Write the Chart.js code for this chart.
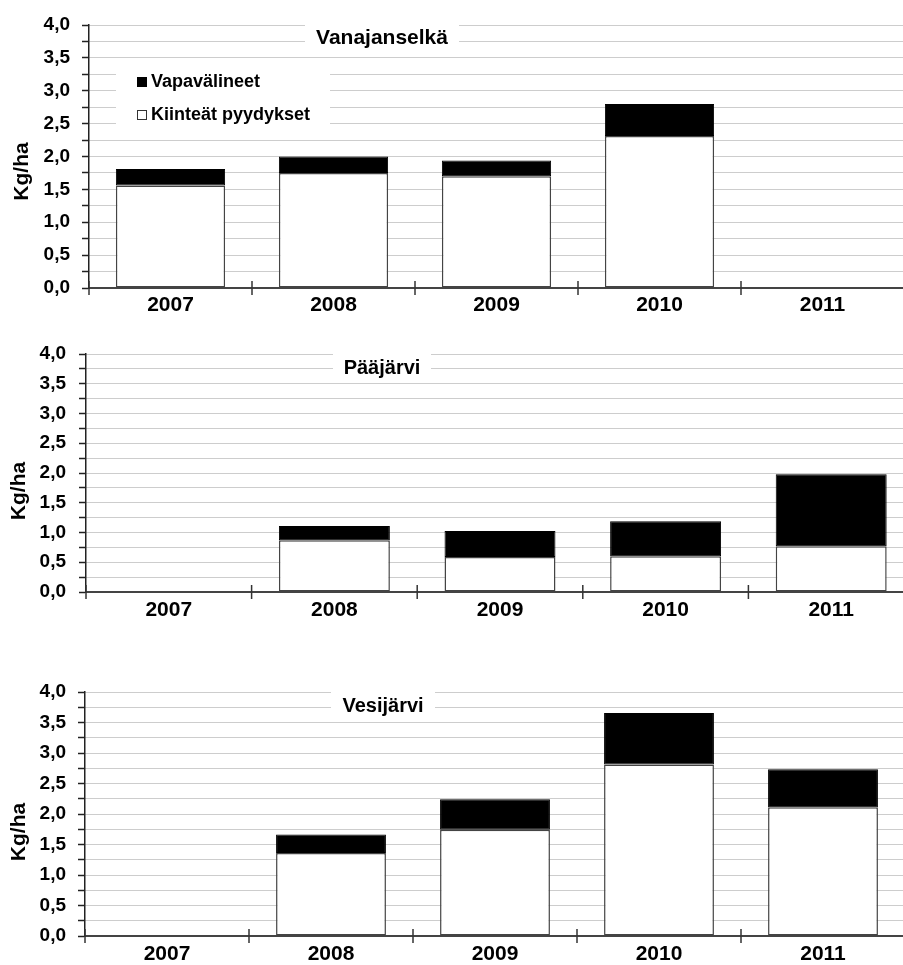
<!DOCTYPE html>
<html>
<head>
<meta charset="utf-8">
<script src="https://cdn.jsdelivr.net/npm/chart.js@4.4.1/dist/chart.umd.min.js"></script>
<style>
  html, body { margin: 0; padding: 0; background: #fff; overflow: hidden; width: 903px; height: 965px; }
  .panel { position: absolute; left: 0; }
</style>
</head>
<body>
<div class="panel" style="top:0px"><canvas id="c1" width="904" height="320"></canvas></div>
<div class="panel" style="top:320px"><canvas id="c2" width="914" height="310"></canvas></div>
<div class="panel" style="top:650px"><canvas id="c3" width="905" height="315"></canvas></div>
<script>
// ---- data ----
const years = ['2007', '2008', '2009', '2010', '2011'];
const seriesNames = ['Vapavälineet', 'Kiinteät pyydykset'];
const lakeNames = ['Vanajanselkä', 'Pääjärvi', 'Vesijärvi'];
const yAxisTitle = 'Kg/ha';
const yTickValues = [0, 0.5, 1, 1.5, 2, 2.5, 3, 3.5, 4];

const vanajaKiinteat = [1.56, 1.75, 1.70, 2.31, null];
const vanajaVapa     = [0.25, 0.25, 0.24, 0.49, null];
const paaKiinteat    = [null, 0.87, 0.59, 0.60, 0.77];
const paaVapa        = [null, 0.24, 0.435, 0.59, 1.21];
const vesiKiinteat   = [null, 1.36, 1.74, 2.81, 2.11];
const vesiVapa       = [null, 0.305, 0.50, 0.845, 0.625];

// ---- styling / layout ----
const FONT = "Arial, 'Liberation Sans', sans-serif";

function fmt(v) { return v.toFixed(1).replace('.', ','); }

function makeChart(id, lake, kiinteat, vapa, L) {
  const decor = {
    id: 'decor' + id,
    afterDraw(chart) {
      const ctx = chart.ctx;
      const xs = chart.scales.x;
      const ca = chart.chartArea;
      ctx.save();
      // category boundary ticks crossing x axis
      const half = (xs.getPixelForValue(1) - xs.getPixelForValue(0)) / 2;
      ctx.strokeStyle = '#333';
      ctx.lineWidth = 1.5;
      for (let i = 0; i < years.length; i++) {
        const x = xs.getPixelForValue(i) - half;
        ctx.beginPath();
        ctx.moveTo(x, ca.bottom - 7);
        ctx.lineTo(x, ca.bottom + 7);
        ctx.stroke();
      }
      // title with white box
      ctx.fillStyle = '#fff';
      ctx.fillRect(L.tBox[0], L.tBox[1], L.tBox[2] - L.tBox[0], L.tBox[3] - L.tBox[1]);
      ctx.fillStyle = '#000';
      ctx.font = 'bold ' + L.tSize + 'px ' + FONT;
      ctx.textAlign = 'center';
      ctx.textBaseline = 'middle';
      ctx.fillText(lake, L.tPos[0], L.tPos[1]);
      // y axis title
      ctx.save();
      ctx.translate(L.yt[0], (ca.top + ca.bottom) / 2 + L.yt[1]);
      ctx.rotate(-Math.PI / 2);
      ctx.font = 'bold 21px ' + FONT;
      ctx.fillText(yAxisTitle, 0, 0);
      ctx.restore();
      // legend
      if (L.legend) {
        const g = L.legend;
        ctx.fillStyle = '#fff';
        ctx.fillRect(g.box[0], g.box[1], g.box[2] - g.box[0], g.box[3] - g.box[1]);
        ctx.font = 'bold 18px ' + FONT;
        ctx.textAlign = 'left';
        ctx.textBaseline = 'middle';
        ctx.fillStyle = '#000';
        ctx.fillRect(g.sx, g.y1 - 5, 10, 10);
        ctx.fillText(seriesNames[0], g.tx, g.y1);
        ctx.fillStyle = '#fff';
        ctx.fillRect(g.sx, g.y2 - 5, 10, 10);
        ctx.strokeStyle = '#333';
        ctx.lineWidth = 1;
        ctx.strokeRect(g.sx + 0.5, g.y2 - 4.5, 9, 9);
        ctx.fillStyle = '#000';
        ctx.fillText(seriesNames[1], g.tx, g.y2);
      }
      ctx.restore();
    }
  };

  return new Chart(document.getElementById(id), {
    type: 'bar',
    data: {
      labels: years,
      datasets: [
        { label: seriesNames[1], data: kiinteat, backgroundColor: '#ffffff', borderColor: '#444', borderWidth: 1.5, borderSkipped: false },
        { label: seriesNames[0], data: vapa, backgroundColor: '#000000', borderColor: '#000', borderWidth: 1, borderSkipped: false }
      ]
    },
    options: {
      responsive: false,
      animation: false,
      devicePixelRatio: 1,
      layout: { padding: { top: L.padTop, left: 0, right: 0, bottom: 0 } },
      datasets: { bar: { barPercentage: 0.67, categoryPercentage: 1 } },
      plugins: { legend: { display: false }, tooltip: { enabled: false } },
      scales: {
        x: {
          stacked: true,
          offset: true,
          grid: { display: false, drawTicks: false },
          border: { display: true, color: '#444', width: 2 },
          ticks: { color: '#000', font: { family: FONT, size: 21, weight: 'bold' }, padding: L.xPad, maxRotation: 0, autoSkip: false },
          afterFit: s => { s.height = L.xH; }
        },
        y: {
          stacked: true,
          min: 0, max: 4,
          afterBuildTicks: s => {
            const t = [];
            for (let i = 0; i < yTickValues.length; i++) {
              t.push({ value: yTickValues[i] });
              if (i < yTickValues.length - 1) t.push({ value: (yTickValues[i] + yTickValues[i + 1]) / 2 });
            }
            s.ticks = t;
          },
          grid: { color: '#9a9a9a', lineWidth: 1, drawTicks: true, tickLength: 7, tickColor: '#222', tickWidth: 1.5 },
          border: { display: true, color: '#222', width: 1.5, dash: [1, 1] },
          ticks: {
            autoSkip: false,
            color: '#000',
            padding: L.yPad,
            font: { family: FONT, size: 19, weight: 'bold' },
            callback: v => (yTickValues.some(t => Math.abs(t - v) < 1e-9) ? fmt(v) : '')
          },
          afterFit: s => { s.width = L.yW; }
        }
      }
    },
    plugins: [decor]
  });
}

makeChart('c1', lakeNames[0], vanajaKiinteat, vanajaVapa, {
  padTop: 25, yW: 89, xH: 32, xPad: 5, yPad: 12,
  tBox: [305, 17, 459, 50], tPos: [382, 38], tSize: 21, yt: [22, 15],
  legend: { box: [116, 66, 330, 131], sx: 137, tx: 151, y1: 82, y2: 115 }
});
makeChart('c2', lakeNames[1], paaKiinteat, paaVapa, {
  padTop: 34, yW: 86, xH: 38, xPad: 6, yPad: 13,
  tBox: [333, 26, 431, 57], tPos: [382, 48], tSize: 20, yt: [19, 18]
});
makeChart('c3', lakeNames[2], vesiKiinteat, vesiVapa, {
  padTop: 42, yW: 85, xH: 29, xPad: 6, yPad: 12,
  tBox: [331, 34, 435, 65], tPos: [383, 56], tSize: 20, yt: [19, 18]
});
</script>
</body>
</html>
